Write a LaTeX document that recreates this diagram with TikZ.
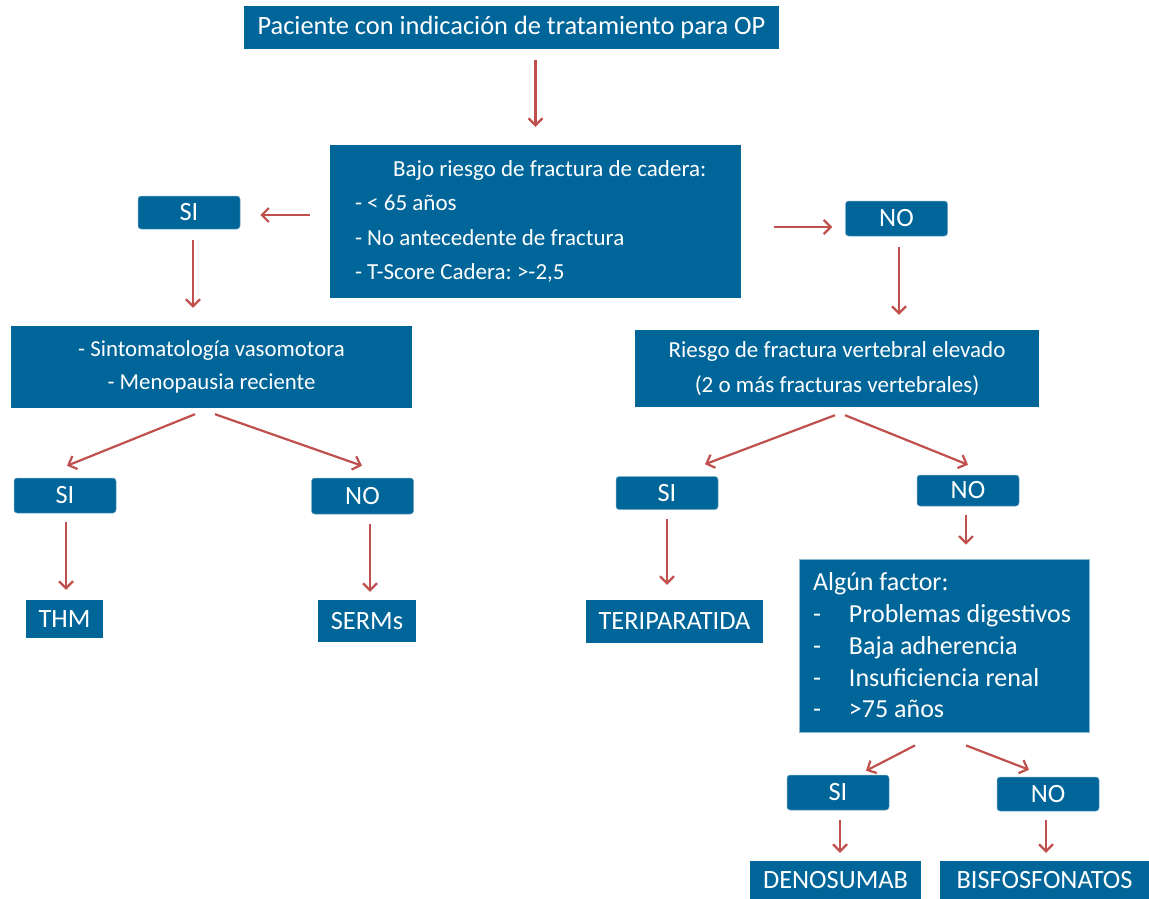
\documentclass[tikz,border=0pt]{standalone}
\usepackage{fontspec}
\setmainfont{Carlito}
\usetikzlibrary{arrows.meta, calc}
\definecolor{boxblue}{HTML}{00669A}
\definecolor{arrowred}{HTML}{C0504D}
\newcommand{\dashitem}{\makebox[36pt][l]{-}}
\frenchspacing
\tikzset{
  box/.style={
    rectangle, fill=boxblue, text=white, inner sep=0pt,
    font=\fontsize{23}{34.5}\selectfont,
  },
  choice/.style={
    box, rounded corners=3pt, draw=boxblue!55!white, line width=0.5pt,
    minimum width=102pt, font=\fontsize{26.4}{30}\selectfont,
  },
  drug/.style={box, minimum height=38pt, font=\fontsize{26.4}{30}\selectfont},
  arrow/.style={-{Straight Barb[length=7pt,width=14pt]}, line width=2.2pt, draw=arrowred},
}

\begin{document}
\begin{tikzpicture}[x=1pt, y=-1pt]
  \useasboundingbox (0,0) rectangle (1149,899);

  % Start and first question
  \node[box, minimum width=535pt, minimum height=43pt, font=\fontsize{26.4}{30}\selectfont]
    (paciente) at (511.5,27.5) {Paciente con indicación de tratamiento para OP};
  \node[box, minimum width=411pt, minimum height=153pt, text width=361pt, align=flush left]
    (bajo) at (535.5,221.5)
    {\hspace*{38pt}Bajo riesgo de fractura de cadera:\\- < 65 años\\- No antecedente de fractura\\- T-Score Cadera: >-2,5};
  \node[choice, minimum height=33pt] (si1) at (189,212.5) {SI};
  \node[choice, minimum height=35pt] (no1) at (896.5,218.5) {NO};

  % Left branch
  \node[box, minimum width=401pt, minimum height=82pt, align=center,
    font=\fontsize{22.8}{33}\selectfont]
    (vaso) at (211.5,367) {- Sintomatología vasomotora\\- Menopausia reciente};
  \node[choice, minimum height=35pt] (si2) at (65,495.5) {SI};
  \node[choice, minimum height=36pt] (no2) at (362.5,496) {NO};
  \node[drug, minimum width=77pt] (thm) at (64.5,619) {THM};
  \node[drug, minimum width=98pt, minimum height=42pt] (serm) at (367,621) {SERMs};

  % Right branch
  \node[box, minimum width=404pt, minimum height=77pt, align=center]
    (vert) at (837,368.5) {Riesgo de fractura vertebral elevado\\(2 o más fracturas vertebrales)};
  \node[choice, minimum height=33pt] (si3) at (667,493) {SI};
  \node[choice, minimum height=31pt] (no3) at (968,490.5) {NO};
  \node[drug, minimum width=177pt, minimum height=43pt] (teri) at (674.5,621.5) {TERIPARATIDA};
  \node[box, draw=boxblue!45!white, line width=0.8pt, minimum width=290pt, minimum height=173pt,
    text width=262pt, align=flush left, font=\fontsize{26}{31.75}\selectfont]
    (factor) at (944,645.5)
    {Algún factor:\\\dashitem Problemas digestivos\\\dashitem Baja adherencia\\\dashitem Insuficiencia renal\\\dashitem >75 años};
  \node[choice, minimum height=35pt] (si4) at (838,792.5) {SI};
  \node[choice, minimum height=34pt] (no4) at (1048,794) {NO};
  \node[drug, minimum width=171pt] (deno) at (835.5,880) {DENOSUMAB};
  \node[drug, minimum width=209pt] (bisf) at (1044.5,880) {BISFOSFONATOS};

  % Arrows
  \draw[arrow] ($(bajo.north |- paciente.south)+(0,11)$) -- ($(bajo.north)+(0,-18)$);
  \draw[arrow] ($(bajo.west)+(-20,-6.5)$) -- ($(si1.east)+(20,2.5)$);
  \draw[arrow] ($(bajo.east)+(33,5.5)$) -- ($(no1.west)+(-13,8.5)$);
  \draw[arrow] ($(si1.south)+(4,11)$) -- ($(si1.south |- vaso.north)+(4,-18)$);
  \draw[arrow] ($(no1.south)+(2.5,11)$) -- ($(no1.south |- vert.north)+(2.5,-15)$);
  \draw[arrow] ($(vaso.south)+(-16.5,6)$) -- ($(si2.north)+(2,-12)$);
  \draw[arrow] ($(vaso.south)+(3.5,6)$) -- ($(no2.north)+(-0.5,-12)$);
  \draw[arrow] ($(si2.south)+(1,9)$) -- ($(si2.south |- thm.north)+(1,-10)$);
  \draw[arrow] ($(no2.south)+(7.5,10)$) -- ($(no2.south |- serm.north)+(7.5,-8)$);
  \draw[arrow] ($(vert.south)+(-2,8)$) -- ($(si3.north)+(38,-12)$);
  \draw[arrow] ($(vert.south)+(8,8)$) -- ($(no3.north)+(0,-10)$);
  \draw[arrow] ($(si3.south)+(0,9)$) -- ($(si3.south |- teri.north)+(0,-15)$);
  \draw[arrow] ($(no3.south)+(-2,9)$) -- ($(no3.south |- factor.north)+(-2,-14)$);
  \draw[arrow] ($(factor.south)+(-29,13)$) -- ($(si4.north)+(28,-4)$);
  \draw[arrow] ($(factor.south)+(22,13)$) -- ($(no4.north)+(-19,-7)$);
  \draw[arrow] ($(si4.south)+(2,10)$) -- ($(si4.south |- deno.north)+(2,-8)$);
  \draw[arrow] ($(no4.south)+(-2,9)$) -- ($(no4.south |- bisf.north)+(-2,-8)$);

\end{tikzpicture}
\end{document}
